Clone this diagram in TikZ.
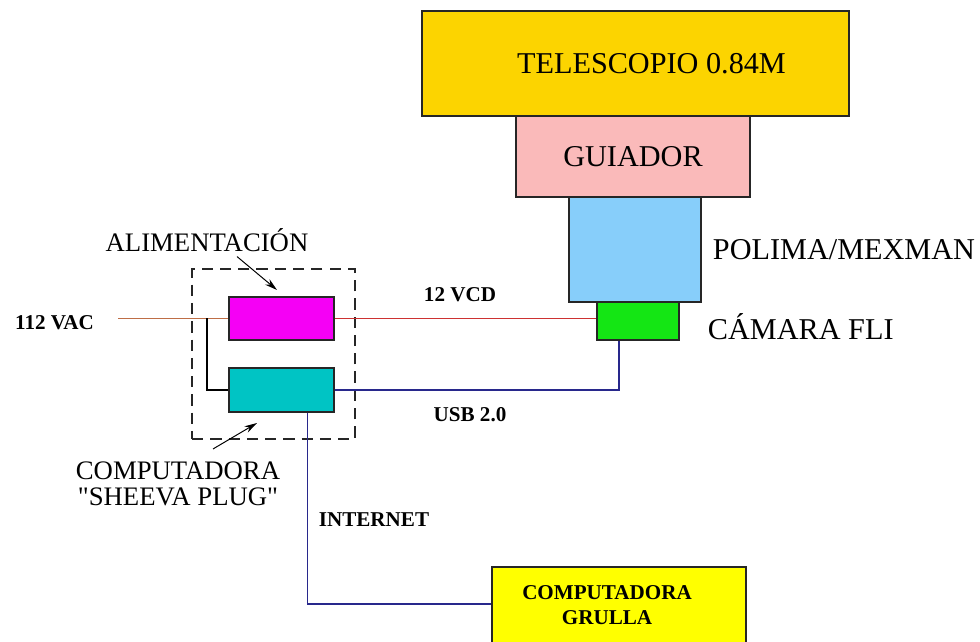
\documentclass[tikz,border=0pt]{standalone}
\usepackage{fontspec}
\setmainfont{Liberation Serif}
\usepackage{xcolor}
\usepackage{tikz}
\usetikzlibrary{positioning,calc,arrows.meta}

\definecolor{telgold}{RGB}{252,212,0}
\definecolor{guipink}{RGB}{250,186,186}
\definecolor{polblue}{RGB}{135,206,250}
\definecolor{camgreen}{RGB}{20,230,20}
\definecolor{alimmag}{RGB}{245,0,245}
\definecolor{cpucyan}{RGB}{0,196,196}
\definecolor{grulyel}{RGB}{255,255,0}
\definecolor{acbrown}{RGB}{190,110,70}
\definecolor{vcdred}{RGB}{205,50,50}
\definecolor{usbnavy}{RGB}{40,40,140}

\begin{document}
\begin{tikzpicture}[
    x=0.025cm, y=-0.025cm,
    unit/.style={draw=black!85, line width=1pt, inner sep=0pt},
    big/.style={font=\fontsize{21.5}{23}\selectfont},
    mid/.style={font=\fontsize{19}{18.5}\selectfont, align=center},
    small/.style={font=\fontsize{15}{17.8}\selectfont\bfseries, align=center},
    wire/.style={line width=0.8pt},
    pointer/.style={line width=0.7pt, -{Stealth[length=9pt,width=5pt]}}
]
    \useasboundingbox (0,0) rectangle (980,642);

    % optical train
    \node[unit, fill=telgold, minimum width=10.675cm, minimum height=2.625cm] (tel) at (635.5,63.5) {};
    \node[big] at (651.5,64) {TELESCOPIO 0.84M};
    \node[unit, fill=guipink, minimum width=5.85cm, minimum height=2.025cm, big] (gui) at (633,156.5) {GUIADOR};
    \node[unit, fill=polblue, minimum width=3.3cm, minimum height=2.625cm] (pol) at (635,249.5) {};
    \node[unit, fill=camgreen, minimum width=2.05cm, minimum height=0.95cm] (cam) at (638,321) {};
    \node[big, anchor=west] (polname) at (708,250) {POLIMA/MEXMAN};
    \node[big, anchor=west] (camname) at (703,327) {CÁMARA FLI};

    % sheeva plug
    \node[draw=black!85, dashed, line width=1pt, dash pattern=on 8pt off 5pt,
          minimum width=4.075cm, minimum height=4.25cm] (plug) at (273.5,354) {};
    \node[unit, fill=alimmag, minimum width=2.625cm, minimum height=1.075cm] (mag) at (281.5,318.5) {};
    \node[unit, fill=cpucyan, minimum width=2.625cm, minimum height=1.1cm] (cpu) at (281.5,390) {};
    \node[unit, fill=grulyel, minimum width=6.35cm, minimum height=2.15cm] (gru) at (619,610) {};
    \node[small] (gruname) at (607,605.5) {COMPUTADORA\\GRULLA};

    \node[mid] (alim) at (207,240) {ALIMENTACIÓN};
    \node[mid] (sheeva) at (178,484) {COMPUTADORA\\\textquotedbl SHEEVA PLUG\textquotedbl};
    \coordinate (alimtip) at (277,290);
    \coordinate (sheevatip) at (257,423);
    \draw[pointer] ([xshift=0.75cm]alim.south) -- (alimtip);
    \draw[pointer] ([xshift=0.875cm,yshift=0.2cm]sheeva.north) -- (sheevatip);

    % wiring
    \coordinate (ac) at (118,318.5);
    \coordinate (split) at (207,318.5);
    \draw[wire, acbrown] (ac) -- (mag.west);
    \draw[wire, black] (split) |- (cpu.west);
    \draw[wire, vcdred] (mag.east) -- (mag.east -| cam.west);
    \draw[wire, usbnavy] (cpu.east) -| ([xshift=-0.475cm]cam.south);
    \draw[wire, usbnavy] ([xshift=0.64cm]cpu.south) |- ([yshift=0.15cm]gru.west);

    \node[small] (vac) at (54.5,323) {112 VAC};
    \node[small] (vcd) at (460,295) {12 VCD};
    \node[small] (usb) at (470,415) {USB 2.0};
    \node[small] (net) at (374,520) {INTERNET};
\end{tikzpicture}
\end{document}
